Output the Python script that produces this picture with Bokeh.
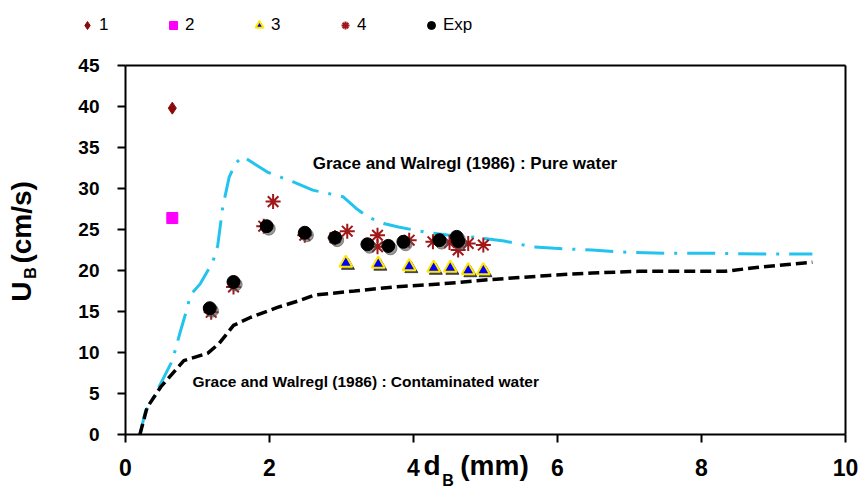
from bokeh.plotting import figure
from bokeh.models import (ColumnDataSource, Legend, LegendItem, Label, FixedTicker, Range1d,
                          LinearAxis)
from bokeh.transform import dodge
from bokeh.embed import file_html
from bokeh.resources import INLINE

# ---- data ----
x_ticks = [0, 2, 4, 6, 8, 10]
y_ticks = [0, 5, 10, 15, 20, 25, 30, 35, 40, 45]

pure_x = [0.20, 0.28, 0.39, 0.65, 0.76, 0.86, 0.90, 1.04, 1.21, 1.28, 1.35, 1.44, 1.53, 1.63,
          1.81, 1.97, 2.33, 2.60, 3.02, 3.20, 3.37, 3.60, 3.79, 4.15, 4.50, 4.90, 5.26, 5.64,
          5.96, 6.48, 7.00, 7.55, 8.10, 8.90, 9.54]
pure_y = [0.0, 2.9, 4.5, 9.0, 12.5, 15.5, 17.0, 18.4, 21.0, 23.0, 27.7, 31.4, 33.1, 33.9,
          32.9, 32.0, 30.8, 29.8, 29.0, 27.6, 26.5, 25.7, 25.3, 24.7, 24.3, 24.0, 23.6, 22.9,
          22.7, 22.5, 22.2, 22.1, 22.1, 22.0, 22.0]

cont_x = [0.20, 0.30, 0.49, 0.81, 1.14, 1.30, 1.50, 1.74, 2.11, 2.44, 2.62, 3.18, 3.73, 4.43,
          5.08, 5.88, 6.48, 7.13, 8.33, 8.70, 9.16, 9.54]
cont_y = [0.0, 3.3, 5.8, 9.0, 9.9, 11.1, 13.3, 14.3, 15.5, 16.4, 17.0, 17.5, 18.0, 18.4,
          18.9, 19.4, 19.7, 19.9, 19.9, 20.3, 20.7, 21.0]

s1_x = [0.65]
s1_y = [39.8]
s2_x = [0.65]
s2_y = [26.4]
s3_x = [3.06, 3.51, 3.94, 4.28, 4.51, 4.76, 4.97]
s3_y = [20.9, 20.8, 20.5, 20.3, 20.3, 20.0, 20.0]
s4_x = [1.19, 1.50, 1.92, 2.05, 2.49, 2.91, 3.08, 3.50, 3.50, 3.94, 4.27, 4.50, 4.62, 4.76, 4.97]
s4_y = [14.9, 18.0, 25.4, 28.4, 24.3, 24.0, 24.8, 24.3, 22.9, 23.7, 23.5, 23.4, 22.5, 23.3, 23.1]
exp_x = [1.17, 1.50, 1.96, 2.49, 2.91, 3.36, 3.65, 3.86, 4.36, 4.60, 4.62]
exp_y = [15.4, 18.6, 25.4, 24.6, 24.0, 23.2, 23.0, 23.5, 23.7, 24.1, 23.6]

legend_labels = ["1", "2", "3", "4", "Exp"]
x_bounds = (0, 10)
y_bounds = (0, 45)

FONT = "Liberation Sans"
W, H = 861, 489
# frame spans the whole canvas; plot box sits at px 125..845, py 65..434
XPX, YPX = 72.0, 8.2
x0 = -125 / XPX
y0 = -(H - 434) / YPX

p = figure(width=W, height=H,
           x_range=Range1d(x0, x0 + W / XPX), y_range=Range1d(y0, y0 + H / YPX),
           output_backend="svg", toolbar_location=None, min_border=0)
p.background_fill_color = "white"
p.border_fill_color = "white"
p.outline_line_color = None
p.xgrid.visible = False
p.ygrid.visible = False

xa = p.xaxis[0]
ya = p.yaxis[0]
xa.fixed_location = 0
ya.fixed_location = 0
xa.bounds = x_bounds
ya.bounds = y_bounds
for ax in (xa, ya):
    ax.axis_line_width = 2
    ax.axis_line_color = "black"
    ax.major_tick_line_width = 2
    ax.major_tick_line_color = "black"
    ax.major_tick_in = 0
    ax.major_tick_out = 8
    ax.minor_tick_line_color = None
    ax.major_label_text_font = FONT
    ax.major_label_text_font_style = "bold"
    ax.major_label_text_color = "black"
xa.ticker = FixedTicker(ticks=x_ticks)
ya.ticker = FixedTicker(ticks=y_ticks)
xa.major_label_text_font_size = "23px"
ya.major_label_text_font_size = "19px"
xa.major_label_standoff = 16
ya.major_label_standoff = 18

# top and right border of the plot box
top = LinearAxis(fixed_location=y_bounds[1], bounds=x_bounds, ticker=FixedTicker(ticks=[]),
                 axis_line_width=2, axis_line_color="black", major_label_text_font_size="0px")
right = LinearAxis(fixed_location=x_bounds[1], bounds=y_bounds, ticker=FixedTicker(ticks=[]),
                   axis_line_width=2, axis_line_color="black", major_label_text_font_size="0px")
p.add_layout(top, "above")
p.add_layout(right, "right")

# curves
p.line(pure_x, pure_y, line_color="#22C4EE", line_width=3, line_dash="28 10 3 10")
p.line(cont_x, cont_y, line_color="black", line_width=3.5, line_dash="11 5")

# markers
src3 = ColumnDataSource(dict(x=s3_x, y=s3_y))
srce = ColumnDataSource(dict(x=exp_x, y=exp_y))

r1 = p.scatter(s1_x, s1_y, marker="diamond", size=12, fill_color="#8B0A0A", line_color="#8B0A0A")
r2 = p.scatter(s2_x, s2_y, marker="square", size=11, fill_color="#FF00FF", line_color="#FF00FF")
p.scatter(x=dodge("x", 0.03), y=dodge("y", -0.3), source=src3, marker="triangle", size=13,
          fill_color="#222222", line_color="#222222", fill_alpha=0.8, line_alpha=0.8)
r3 = p.scatter(x="x", y="y", source=src3, marker="triangle", size=13, fill_color="#0000FF",
               line_color="#FFE800", line_width=2)
r4 = p.scatter(s4_x, s4_y, marker="asterisk", size=15, line_color="#A01818", line_width=2)
p.scatter(x=dodge("x", 0.03), y=dodge("y", -0.3), source=srce, marker="circle", size=13,
          fill_color="#555555", line_color="#555555", fill_alpha=0.6, line_alpha=0.6)
r5 = p.scatter(x="x", y="y", source=srce, marker="circle", size=13, fill_color="black",
               line_color="black")

legend = Legend(items=[LegendItem(label=l, renderers=[r]) for l, r in
                       zip(legend_labels, [r1, r2, r3, r4, r5])],
                orientation="horizontal", location=(77, 454),
                glyph_width=20, glyph_height=20, label_height=20, label_standoff=2,
                spacing=44, padding=0, margin=0,
                label_text_font=FONT, label_text_font_size="17px", label_text_color="black",
                border_line_alpha=0, background_fill_alpha=0)
p.add_layout(legend)


def lab(x, y, text, size, angle=0.0):
    p.add_layout(Label(x=x, y=y, text=text, angle=angle, text_font=FONT,
                       text_font_style="bold", text_font_size=size, text_color="black",
                       text_baseline="alphabetic", text_align="left"))


# annotations
lab(2.60, 33.1, "Grace and Walregl (1986) : Pure water", "17px")
lab(0.93, 6.45, "Grace and Walregl (1986) : Contaminated water", "15.5px")

# x title: d_B (mm)
lab(4.14, -3.80, "d", "28px")
lab(4.40, -5.55, "B", "16px")
lab(4.65, -3.80, "(mm)", "28px")

# y title: U_B (cm/s)
ang = 1.5707963
lab(-1.44, 16.2, "U", "28px", ang)
lab(-1.32, 19.0, "B", "16px", ang)
lab(-1.44, 20.85, "(cm/s)", "28px", ang)

open("out.html", "w").write(file_html(p, INLINE))
